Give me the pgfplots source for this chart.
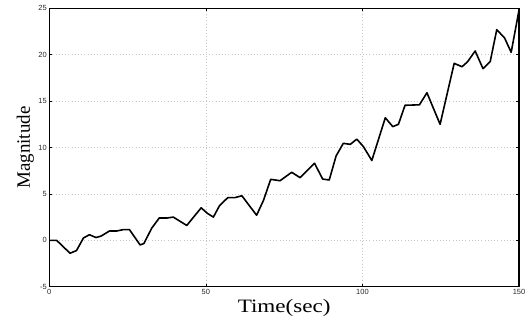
\documentclass[border=0pt]{standalone}
\usepackage{pgfplots}
\pgfplotsset{compat=1.18}
\usepackage{fontspec}
\setmainfont{Liberation Serif}
\newfontfamily\tickfont{Liberation Sans}
\begin{document}
\begin{tikzpicture}
\begin{axis}[
  scale only axis,
  width=469.7bp, height=278.4bp,
  xmin=0, xmax=150, ymin=-5, ymax=25,
  xtick={0,50,100,150}, ytick={-5,0,5,10,15,20,25},
  grid=major,
  grid style={gray!45, line width=0.7bp, dash pattern=on 0.8bp off 2.4bp},
  axis line style={black, line width=1.2bp},
  major tick length=3bp,
  tick style={black, line width=0.6bp},
  /pgf/number format/assume math mode=true,
  tick label style={font=\tickfont\fontsize{7.5}{8}\selectfont, text=black!85},
  xticklabel style={yshift=1bp},
  yticklabel style={xshift=1bp},
  xlabel={\scalebox{1.22}[1]{Time(sec)}},
  ylabel={Magnitude},
  label style={font=\fontsize{19}{20}\selectfont},
  xlabel style={at={(axis description cs:0.5,0)}, anchor=center, yshift=-21.5bp},
  ylabel style={at={(axis description cs:0,0.5)}, anchor=center, yshift=24bp},
]
\addplot[black, line width=1.6bp, line join=round] coordinates {
(0,0) (2.3,0) (3.9,-0.5) (6.6,-1.4) (8.7,-1.1) (10.9,0.25) (12.8,0.6) (14.9,0.3)
(16.5,0.45) (19.2,1.0) (21.5,1.0) (23.6,1.15) (25.6,1.15) (29,-0.5) (30.2,-0.35)
(32.7,1.3) (35.1,2.4) (37.5,2.4) (39.6,2.5) (43.9,1.6) (48.5,3.5) (50.5,2.9)
(52.4,2.5) (54.3,3.7) (57,4.6) (59.3,4.6) (61.5,4.8) (66.2,2.7) (68.4,4.3)
(70.7,6.57) (73.7,6.42) (77.4,7.33) (80.1,6.75) (84.7,8.3) (87.3,6.6) (89.4,6.5)
(91.6,9.1) (93.9,10.45) (96.1,10.34) (98.2,10.9) (100.3,10.1) (103,8.6)
(107.3,13.2) (109.7,12.25) (111.5,12.5) (113.6,14.55) (118.2,14.6) (120.6,15.9)
(124.8,12.5) (129.3,19.07) (131.8,18.7) (133.6,19.25) (136,20.4) (138.5,18.5)
(140.8,19.25) (142.9,22.7) (145.4,21.8) (147.5,20.25) (150,24.8)
};
\end{axis}
\pgfresetboundingbox
\path[use as bounding box] (-49.3bp,-35.3bp) rectangle (479.7bp,286.7bp);
\end{tikzpicture}
\end{document}
